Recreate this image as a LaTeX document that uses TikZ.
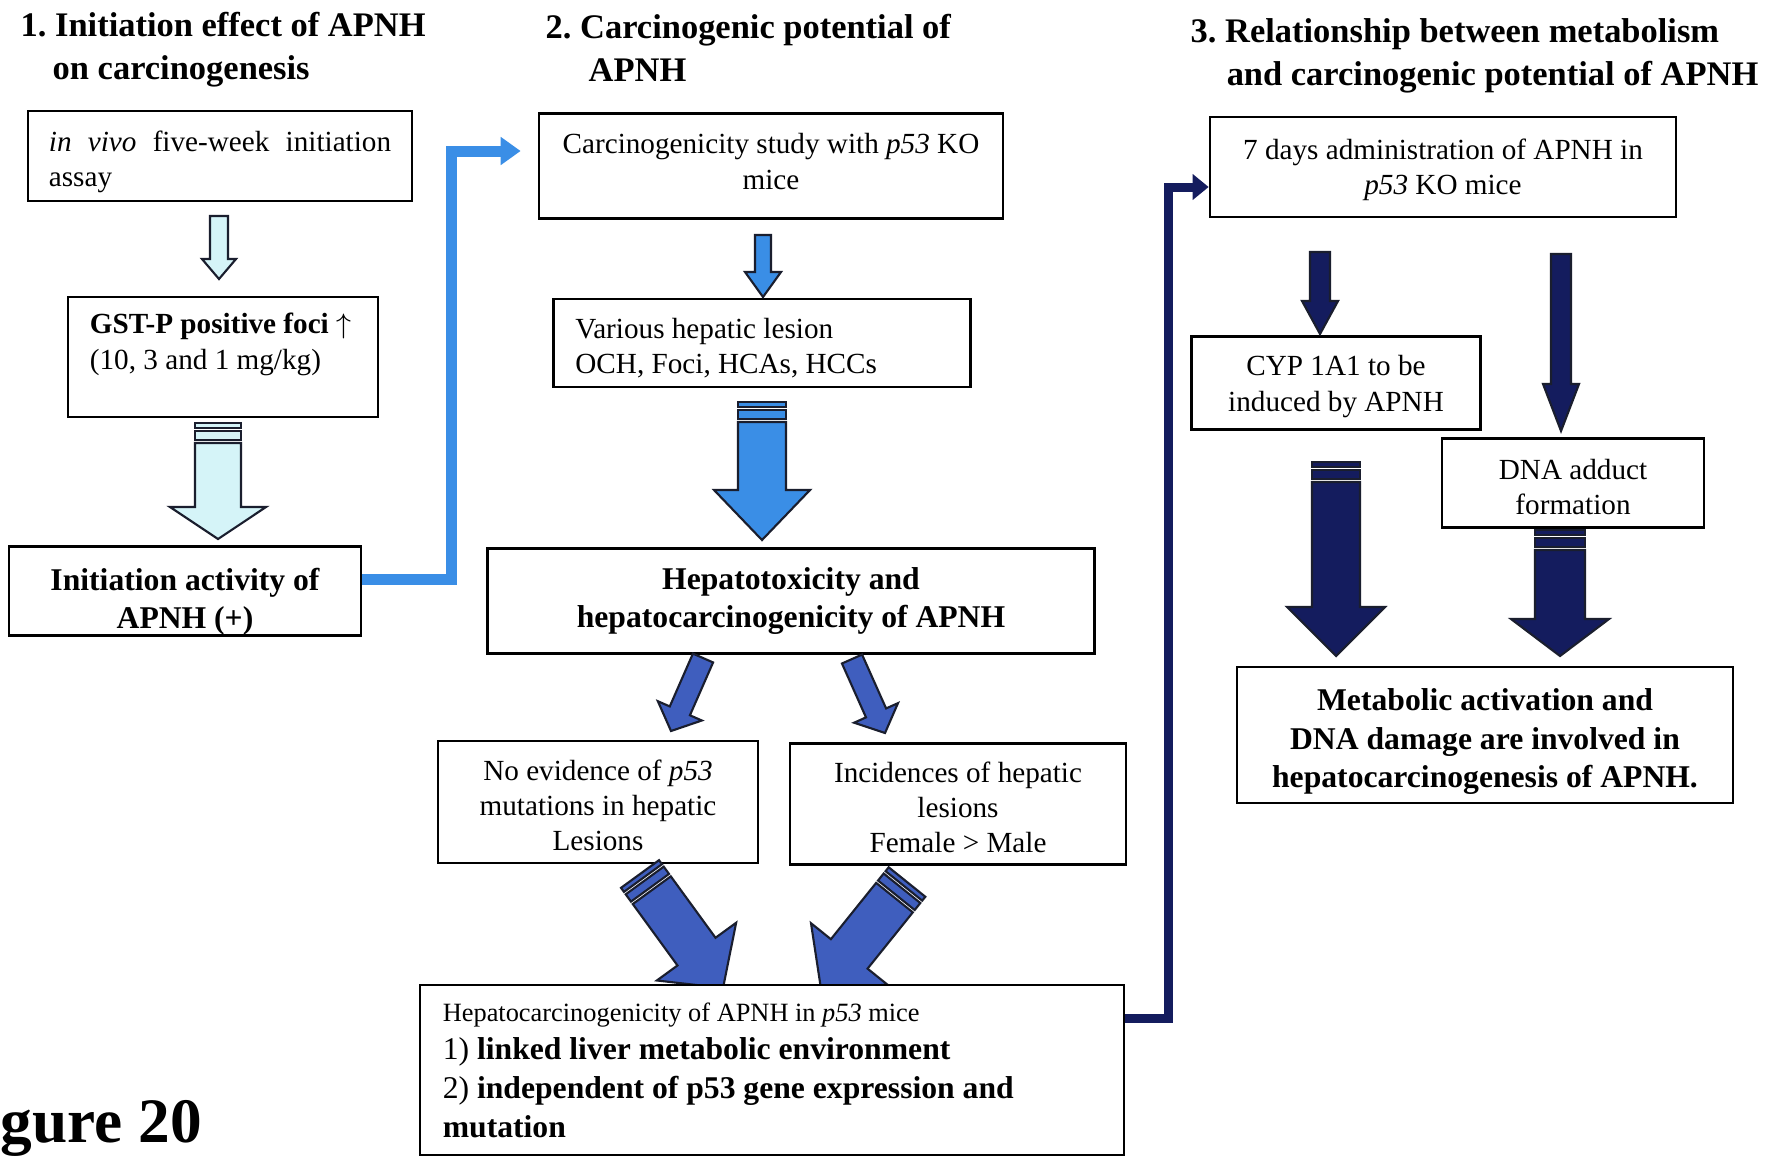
\documentclass[tikz,border=0pt]{standalone}
\usepackage{fontspec}
\setmainfont{Liberation Serif}
\usepackage{amsmath}
\usepackage{amssymb}
\usepackage{tikz}
\usetikzlibrary{calc,arrows.meta}
\frenchspacing

\definecolor{cyanfill}{HTML}{D5F4F8}
\definecolor{bluefill}{HTML}{3A8EE6}
\definecolor{steelfill}{HTML}{3F5EBE}
\definecolor{navyfill}{HTML}{141C5E}
\definecolor{arrowedge}{HTML}{1A1E2E}

\newcommand{\fatarrow}[6][]{%
  \draw[#1] ($(#2)!#4!90:(#3)$)
    -- ($(#3)!#6!(#2)!#4!90:(#3)$)
    -- ($(#3)!#6!(#2)!#5!90:(#3)$)
    -- (#3)
    -- ($(#3)!#6!(#2)!#5!-90:(#3)$)
    -- ($(#3)!#6!(#2)!#4!-90:(#3)$)
    -- ($(#2)!#4!-90:(#3)$) -- cycle;}
\newcommand{\tailbands}[4][]{%
  \draw[#1] ($(#2)!#4!90:(#3)$) -- ($(#2)!0.05cm!(#3)!#4!90:(#3)$)
    -- ($(#2)!0.05cm!(#3)!#4!-90:(#3)$) -- ($(#2)!#4!-90:(#3)$) -- cycle;
  \draw[#1] ($(#2)!0.08cm!(#3)!#4!90:(#3)$) -- ($(#2)!0.17cm!(#3)!#4!90:(#3)$)
    -- ($(#2)!0.17cm!(#3)!#4!-90:(#3)$) -- ($(#2)!0.08cm!(#3)!#4!-90:(#3)$) -- cycle;}
\newcommand{\bandarrow}[6][]{%
  \tailbands[#1]{#2}{#3}{#4}
  \coordinate (bandstart) at ($(#2)!0.2cm!(#3)$);
  \fatarrow[#1]{bandstart}{#3}{#4}{#5}{#6}}

\begin{document}
\begin{tikzpicture}[x=0.01cm, y=-0.01cm,
    textbox/.style={draw, fill=white, line width=0.7pt, inner sep=0pt, align=center,
      font=\fontsize{8.3}{10}\selectfont},
    boldbox/.style={textbox, font=\fontsize{9}{11}\selectfont\bfseries},
    headtext/.style={anchor=north west, inner sep=0pt, align=left,
      font=\fontsize{9.8}{12.2}\selectfont\bfseries},
    cyanarr/.style={draw=arrowedge, fill=cyanfill, line width=0.6pt},
    bluearr/.style={draw=arrowedge, fill=bluefill, line width=0.6pt},
    steelarr/.style={draw=arrowedge, fill=steelfill, line width=0.6pt},
    navyarr/.style={draw=arrowedge, fill=navyfill, line width=0.6pt},
    blueelbow/.style={draw=bluefill, line width=0.11cm,
      -{Triangle[length=0.2cm, width=0.27cm]}},
    navyelbow/.style={draw=navyfill, line width=0.09cm,
      -{Triangle[length=0.16cm, width=0.25cm]}}]

    \useasboundingbox (0,0) rectangle (1780,1157);
    \fill[white] (0,0) rectangle (1780,1157);
    \clip (0,0) rectangle (1780,1157);

    \node[headtext] (h1) at (20,12) {1. Initiation effect of APNH\\\hspace*{0.32cm}on carcinogenesis};
    \node[headtext] (h2) at (545,14) {2. Carcinogenic potential of\\\hspace*{0.43cm}APNH};
    \node[headtext] (h3) at (1190,18) {3. Relationship between metabolism\\\hspace*{0.36cm}and carcinogenic potential of APNH};

    \node[textbox, minimum width=3.84cm, minimum height=0.9cm, text width=3.42cm, align=left] (a1) at (220,156)
        {\rule{0pt}{9pt}\textit{in}\hfill\textit{vivo}\hfill five-week\hfill initiation\\assay};
    \node[textbox, minimum width=3.1cm, minimum height=1.2cm, text width=2.66cm, align=left] (a2) at (223,357)
        {\spaceskip=0pt\relax\mbox{\textbf{GST-P positive foci}~$\uparrow$}\\(10, 3 and 1 mg/kg)\rule[-9pt]{0pt}{0pt}};
    \node[boldbox, minimum width=3.52cm, minimum height=0.87cm] (a3) at (185,591)
        {\rule{0pt}{12.5pt}Initiation activity of\\APNH (+)};

    \node[textbox, minimum width=4.64cm, minimum height=1.05cm] (b1) at (771,166)
        {Carcinogenicity study with \textit{p53} KO\\mice\rule[-2.6pt]{0pt}{0pt}};
    \node[textbox, minimum width=4.17cm, minimum height=0.88cm, text width=3.73cm, align=left] (b2) at (762,343)
        {\spaceskip=0pt\relax\rule{0pt}{8.5pt}Various hepatic lesion\\OCH, Foci, HCAs, HCCs};
    \node[boldbox, minimum width=6.07cm, minimum height=1.05cm] (b3) at (791,601)
        {Hepatotoxicity and\\hepatocarcinogenicity of APNH};
    \node[textbox, minimum width=3.2cm, minimum height=1.22cm] (b4) at (598,802)
        {\rule{0pt}{7.8pt}No evidence of \textit{p53}\\mutations in hepatic\\Lesions};
    \node[textbox, minimum width=3.36cm, minimum height=1.21cm] (b5) at (958,804)
        {\rule{0pt}{7.8pt}Incidences of hepatic\\lesions\\Female > Male};

    \node[textbox, minimum width=4.66cm, minimum height=1cm] (c1) at (1443,167)
        {\rule{0pt}{7.4pt}7 days administration of APNH in\\\textit{p53} KO mice};
    \node[textbox, minimum width=2.89cm, minimum height=0.93cm] (c2) at (1336,383)
        {\rule{0pt}{7.8pt}CYP 1A1 to be\\induced by APNH};
    \node[textbox, minimum width=2.62cm, minimum height=0.89cm] (c3) at (1573,483)
        {\rule{0pt}{7.8pt}DNA adduct\\formation};
    \node[boldbox, minimum width=4.96cm, minimum height=1.36cm] (c4) at (1485,735)
        {\rule{0pt}{10pt}Metabolic activation and\\DNA damage are involved in\\hepatocarcinogenesis of APNH.};

    \node[anchor=base west, inner sep=0pt, font=\fontsize{18}{20}\selectfont\bfseries] (fig) at (0,1142) {gure 20};

    \coordinate (p1) at (219,216);
    \coordinate (q1) at (219,279);
    \coordinate (p2) at (218,423);
    \coordinate (q2) at (218,539);
    \coordinate (p3) at (763,235);
    \coordinate (q3) at (763,297);
    \coordinate (p4) at (762,402);
    \coordinate (q4) at (762,540);
    \coordinate (p5) at (703,658);
    \coordinate (q5) at (671,731);
    \coordinate (p6) at (852,659);
    \coordinate (q6) at (885,733);
    \coordinate (p7) at (640,874);
    \coordinate (q7) at (723,988);
    \coordinate (p8) at (907,882);
    \coordinate (q8) at (821,989);
    \coordinate (p9) at (1320,252);
    \coordinate (q9) at (1320,334);
    \coordinate (p10) at (1561,254);
    \coordinate (q10) at (1561,431);
    \coordinate (p11) at (1336,462);
    \coordinate (q11) at (1336,656);
    \coordinate (p12) at (1560,530);
    \coordinate (q12) at (1560,656);

    \fatarrow[cyanarr]{p1}{q1}{0.09cm}{0.17cm}{0.2cm}
    \bandarrow[cyanarr]{p2}{q2}{0.23cm}{0.48cm}{0.32cm}
    \fatarrow[bluearr]{p3}{q3}{0.08cm}{0.18cm}{0.25cm}
    \bandarrow[bluearr]{p4}{q4}{0.24cm}{0.48cm}{0.5cm}
    \fatarrow[steelarr]{p5}{q5}{0.11cm}{0.24cm}{0.22cm}
    \fatarrow[steelarr]{p6}{q6}{0.11cm}{0.24cm}{0.22cm}
    \bandarrow[steelarr]{p7}{q7}{0.235cm}{0.49cm}{0.45cm}
    \bandarrow[steelarr]{p8}{q8}{0.235cm}{0.49cm}{0.45cm}
    \fatarrow[navyarr]{p9}{q9}{0.1cm}{0.18cm}{0.33cm}
    \fatarrow[navyarr]{p10}{q10}{0.1cm}{0.18cm}{0.47cm}
    \bandarrow[navyarr]{p11}{q11}{0.24cm}{0.49cm}{0.49cm}
    \bandarrow[navyarr]{p12}{q12}{0.25cm}{0.49cm}{0.37cm}

    \node[textbox, minimum width=7.04cm, minimum height=1.7cm, text width=6.58cm, align=left,
        font=\fontsize{9}{11}\selectfont] (b6) at (772,1070)
        {\spaceskip=0pt\relax{\fontsize{7.5}{9}\selectfont Hepatocarcinogenicity of APNH in \textit{p53} mice}\\
         1) \textbf{linked liver metabolic environment}\\
         2) \textbf{independent of p53 gene expression and}\\
         \textbf{mutation}};

    \draw[blueelbow] ($(a3.east)+(0,-12)$) -- ++(89,0) |- ($(b1.west)+(-17,-15)$);
    \draw[navyelbow] ($(b6.east)+(0,-52)$) -- ++(43,0) |- ($(c1.west)+(0,20)$);
\end{tikzpicture}
\end{document}
